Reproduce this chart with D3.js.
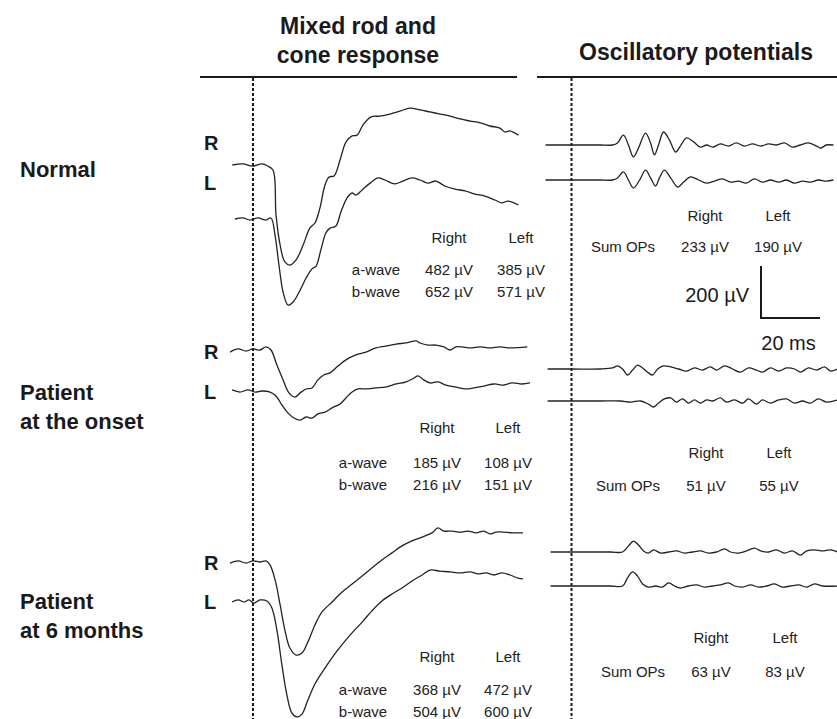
<!DOCTYPE html>
<html>
<head>
<meta charset="utf-8">
<script src="https://cdn.jsdelivr.net/npm/d3@7"></script>
<style>
  body { margin: 0; background: #fff; }
  svg { display: block; font-family: "Liberation Sans", Arial, sans-serif; }
</style>
</head>
<body>
<svg id="chart" width="837" height="719"></svg>
<script>
// ---- data: [time (ms from flash), amplitude (µV from baseline)] ----
const mixedNormalR = [[-7,0],[-3.4,4],[0,-4],[3,4],[5,-4],[6.8,-20],[7.8,-192],[9.2,-308],[10.8,-373],[12.5,-385],[14.6,-365],[17,-308],[19.3,-242],[21,-223],[22.7,-165],[24.4,-77],[25.8,-46],[27.5,-42],[29.5,19],[31.5,88],[33.6,112],[35.3,115],[37.3,154],[40,185],[43,188],[46.4,196],[50,208],[53.2,219],[56.6,212],[60,204],[63.4,196],[66.8,188],[70.2,177],[73.6,169],[77,162],[80.3,150],[83.7,142],[85.4,127],[87,131],[90,115]];
const mixedNormalL = [[-6.1,0],[-3.4,4],[-1,-4],[1.7,4],[4.4,-4],[6.1,4],[7.5,-65],[8.8,-177],[10.2,-281],[11.9,-331],[13.6,-319],[16,-273],[18,-227],[20,-192],[21.4,-181],[23,-119],[24.7,-54],[26.1,-35],[28.1,-27],[29.8,27],[31.9,81],[33.6,100],[34.9,92],[37,112],[39.7,138],[42.4,158],[44.7,150],[48.1,135],[50.8,146],[53.9,158],[56.6,150],[59.3,138],[62,146],[65,127],[68.5,115],[71.9,108],[75.3,96],[78.6,88],[82,73],[84.4,62],[86.4,69],[90,54]];
const mixedOnsetR = [[-7.8,-8],[-5,4],[-2.4,-4],[0,4],[2.4,0],[4.4,12],[6.1,0],[8.1,-58],[10.2,-115],[12.2,-165],[14.2,-181],[16,-165],[18,-150],[20,-146],[22,-115],[24,-96],[26.1,-88],[28.8,-62],[31.5,-38],[34.9,-19],[38.3,-8],[41.7,8],[45,15],[48.5,23],[51.9,27],[55.3,35],[56.6,27],[59.3,19],[62,19],[64.7,12],[66.8,0],[68.8,12],[70.8,12],[73.6,8],[77,12],[80.3,8],[83.7,12],[87.1,8],[93,12]];
const mixedOnsetL = [[-7.1,4],[-4.4,-4],[-1.7,4],[0.7,-4],[3,0],[5.8,-4],[7.8,-19],[9.8,-54],[11.9,-85],[13.9,-104],[16,-112],[18,-100],[20,-104],[22,-88],[24.4,-81],[26.8,-65],[29.5,-50],[31.5,-27],[33.6,-4],[35.6,8],[38.3,8],[41.7,12],[45,15],[48.5,27],[51.9,35],[54.6,50],[55.9,58],[58,42],[60,31],[62.7,35],[65.4,23],[68.8,15],[72.2,8],[74.9,12],[78.3,19],[81.7,27],[85.1,23],[87.8,31],[91.2,27],[93.9,31]];
const mixed6mR = [[-7.8,-4],[-5,4],[-2.4,-4],[0,4],[2.4,0],[4.4,4],[5.8,-12],[7.5,-69],[9.2,-165],[10.8,-262],[12.5,-331],[14.6,-358],[16.6,-350],[18.6,-308],[21,-242],[23.4,-192],[26.8,-154],[30.2,-115],[33.6,-85],[37,-54],[40.3,-23],[43.7,8],[47.1,35],[50.5,62],[53.9,81],[57.3,96],[60.7,112],[62.7,131],[64.7,119],[67.5,119],[70.2,115],[72.9,119],[75.6,112],[78.3,119],[80.3,108],[82.4,115],[85.1,115],[87.8,112],[91.5,112]];
const mixed6mL = [[-7.1,-4],[-5,4],[-3,-4],[-1.4,4],[0.3,-8],[2.4,4],[4.7,0],[6.4,-27],[8.1,-112],[9.8,-246],[11.5,-362],[13.2,-431],[14.9,-446],[16.6,-435],[18.6,-381],[21,-319],[24.4,-258],[28.5,-192],[32.9,-131],[37,-81],[40.3,-38],[43.7,0],[47.1,27],[50.5,50],[53.9,77],[57.3,100],[60,119],[63.4,115],[66.8,112],[70.2,108],[73.6,112],[76.3,104],[79,108],[81.7,100],[84.4,108],[87.1,100],[89.8,88],[91.5,85]];

const opNormalR = [[-8.8,0],[-3.7,0],[3,0],[9.8,0],[13.9,0],[15.6,8],[17.6,38],[19.3,0],[21,-46],[22.7,-12],[25.1,46],[26.8,8],[28.1,-38],[29.5,0],[31.2,50],[33.2,19],[35.3,-27],[36.9,-4],[39,27],[41.4,12],[43.7,-8],[45.8,0],[47.8,-8],[50.5,4],[53.2,-4],[55.9,8],[58.6,-4],[61.4,4],[64.1,-4],[66.8,4],[69.5,0],[72.2,8],[74.9,-8],[77.6,0],[80.3,8],[83.1,-4],[84.4,-12],[86.4,0],[88.8,0]];
const opNormalL = [[-8.8,0],[-3.7,0],[3,0],[9.8,0],[13.9,0],[15.6,8],[17.6,31],[19.3,0],[21,-31],[23.1,0],[25.1,38],[26.8,8],[28.5,-23],[29.8,8],[31.5,38],[33.6,8],[36,-27],[38,-8],[40.3,12],[43.1,0],[45.8,-12],[48.5,-4],[51.2,4],[53.9,-8],[56.6,-4],[59.3,-12],[62,4],[64.7,-8],[67.5,0],[70.2,-8],[72.9,0],[75.6,-12],[78.3,-4],[81,-8],[83.7,0],[86.4,-4],[88.8,0]];
const opOnsetR = [[-8.1,0],[0,0],[9.8,0],[13.9,4],[15.6,12],[17.3,0],[19,-23],[20.7,-4],[22.4,15],[24.1,4],[26.1,-15],[27.5,-23],[29.2,0],[31.2,12],[33.6,8],[36.3,0],[39,-8],[41.7,4],[44.4,-4],[47.1,8],[49.2,-4],[51.9,12],[54.6,0],[57.3,-12],[60,4],[62.7,-4],[64.7,-12],[67.5,4],[70.2,-8],[72.9,4],[75.6,0],[77.6,-12],[80.3,4],[83.1,-4],[85.8,8],[87.8,-8],[90.2,0]];
const opOnsetL = [[-8.1,0],[0,0],[9.8,0],[16.6,0],[20,-4],[23.4,0],[26.1,-12],[27.8,-23],[29.5,-8],[31.5,8],[33.6,12],[35.6,-4],[37.6,8],[39.7,-8],[41.7,4],[43.7,-8],[45.8,4],[47.8,0],[50.5,12],[52.5,-4],[55.3,4],[58,-8],[60,8],[62.7,-12],[64.7,4],[67.5,-8],[70.2,4],[72.9,8],[75.6,-8],[78.3,0],[81,-8],[83.7,8],[86.4,-4],[90.2,4]];
const op6mR = [[-7.1,0],[0,0],[13.2,0],[17.3,0],[19.3,23],[21,42],[22.7,27],[24.4,4],[26.1,-4],[27.8,8],[30.2,-4],[32.9,0],[35.6,4],[38.3,-4],[41,0],[43.7,4],[46.4,-4],[49.2,0],[51.9,12],[53.9,0],[56.6,-4],[59.3,4],[62,15],[64.1,4],[66.8,0],[69.5,8],[72.2,-4],[74.9,4],[77.6,-12],[79.7,4],[82.4,8],[85.1,4],[87.8,8],[90.2,0]];
const op6mL = [[-7.1,0],[0,0],[13.2,0],[17.3,0],[19,31],[20.7,54],[22.4,38],[24.1,8],[26.1,-4],[28.5,0],[30.8,-4],[32.9,12],[34.9,0],[36.9,-8],[39.7,0],[42.4,4],[45.1,-4],[47.8,0],[50.5,4],[53.2,12],[55.3,0],[58,-4],[60.7,4],[63.4,-4],[66.1,0],[68.8,8],[71.5,-4],[74.2,0],[77,4],[79.7,-4],[82.4,8],[85.1,0],[90.2,0]];

// ---- table values ----
const rowNames = [["Normal"], ["Patient", "at the onset"], ["Patient", "at 6 months"]];
const eyeLabels = ["R", "L"];
const colHeaders = ["Right", "Left"];
const aWave = [[482, 385], [185, 108], [368, 472]];
const bWave = [[652, 571], [216, 151], [504, 600]];
const sumOPs = [[233, 190], [51, 55], [63, 83]];
const scaleBar = { amp: 200, time: 20 };

// ---- layout ----
const svg = d3.select("#chart");
const ink = "#1a1a1a";

const xMix = d3.scaleLinear().domain([0, 90]).range([253, 518.5]);
const xOP = d3.scaleLinear().domain([0, 90]).range([571.5, 837]);
const yAmp = d3.scaleLinear().domain([0, 200]).range([0, -52]);

// per row: trace baselines (R, L) for mixed and OP panels, plus label & table positions
const rows = [
    { mixed: [mixedNormalR, mixedNormalL], op: [opNormalR, opNormalL],
      mixBase: [165, 219], opBase: [145, 180], eyeY: [143, 183],
      nameY: [177], mixTab: { head: 243, a: 275, b: 297, c1: 449, c2: 521, lab: 376 },
      opTab: { head: 221, sum: 252, lab: 623, c1: 705, c2: 778 } },
    { mixed: [mixedOnsetR, mixedOnsetL], op: [opOnsetR, opOnsetL],
      mixBase: [350, 391], opBase: [369, 401], eyeY: [352, 392],
      nameY: [400, 429], mixTab: { head: 433, a: 468, b: 490, c1: 437, c2: 508, lab: 363 },
      opTab: { head: 458, sum: 491, lab: 628, c1: 706, c2: 779 } },
    { mixed: [mixed6mR, mixed6mL], op: [op6mR, op6mL],
      mixBase: [562, 601], opBase: [552, 586], eyeY: [563, 602],
      nameY: [609, 638], mixTab: { head: 662, a: 695, b: 717, c1: 437, c2: 508, lab: 363 },
      opTab: { head: 643, sum: 677, lab: 633, c1: 711, c2: 785 } }
];

// column headers
const titles = svg.append("g").attr("font-weight", "bold").attr("font-size", 23).attr("fill", ink)
    .attr("text-anchor", "middle");
titles.append("text").attr("x", 358).attr("y", 34).text("Mixed rod and");
titles.append("text").attr("x", 358).attr("y", 63).text("cone response");
titles.append("text").attr("x", 696).attr("y", 60).text("Oscillatory potentials");

svg.append("line").attr("x1", 200).attr("x2", 517).attr("y1", 77).attr("y2", 77)
    .attr("stroke", ink).attr("stroke-width", 2);
svg.append("line").attr("x1", 537).attr("x2", 837).attr("y1", 77).attr("y2", 77)
    .attr("stroke", ink).attr("stroke-width", 2);

// stimulus markers (t = 0)
[xMix(0), xOP(0)].forEach(x => {
    svg.append("line").attr("x1", x).attr("x2", x).attr("y1", 78).attr("y2", 719)
        .attr("stroke", ink).attr("stroke-width", 2).attr("stroke-dasharray", "3,2");
});

rows.forEach((row, r) => {
    // row name
    rowNames[r].forEach((s, i) => {
        svg.append("text").attr("x", 20).attr("y", row.nameY[i]).attr("font-weight", "bold")
            .attr("font-size", 22).attr("fill", ink).text(s);
    });

    // R / L
    eyeLabels.forEach((s, i) => {
        svg.append("text").attr("x", 204).attr("y", row.eyeY[i]).attr("dy", "0.36em")
            .attr("font-weight", "bold").attr("font-size", 20).attr("fill", ink).text(s);
    });

    // traces
    row.mixed.forEach((pts, i) => {
        const line = d3.line().x(d => xMix(d[0])).y(d => row.mixBase[i] + yAmp(d[1]))
            .curve(d3.curveCatmullRom.alpha(0.5));
        svg.append("path").datum(pts).attr("d", line).attr("fill", "none")
            .attr("stroke", "#222").attr("stroke-width", 1.3);
    });
    row.op.forEach((pts, i) => {
        const line = d3.line().x(d => xOP(d[0])).y(d => row.opBase[i] + yAmp(d[1]))
            .curve(d3.curveCatmullRom.alpha(0.5));
        svg.append("path").datum(pts).attr("d", line).attr("fill", "none")
            .attr("stroke", "#222").attr("stroke-width", 1.3);
    });
});

// tables
function tableText(x, y, s) {
    svg.append("text").attr("x", x).attr("y", y).attr("text-anchor", "middle")
        .attr("font-size", 15).attr("fill", "#222").text(s);
}
rows.forEach((row, r) => {
    const m = row.mixTab;
    tableText(m.c1, m.head, colHeaders[0]);
    tableText(m.c2, m.head, colHeaders[1]);
    tableText(m.lab, m.a, "a-wave");
    tableText(m.lab, m.b, "b-wave");
    tableText(m.c1, m.a, aWave[r][0] + " \u00b5V");
    tableText(m.c2, m.a, aWave[r][1] + " \u00b5V");
    tableText(m.c1, m.b, bWave[r][0] + " \u00b5V");
    tableText(m.c2, m.b, bWave[r][1] + " \u00b5V");

    const o = row.opTab;
    tableText(o.c1, o.head, colHeaders[0]);
    tableText(o.c2, o.head, colHeaders[1]);
    tableText(o.lab, o.sum, "Sum OPs");
    tableText(o.c1, o.sum, sumOPs[r][0] + " \u00b5V");
    tableText(o.c2, o.sum, sumOPs[r][1] + " \u00b5V");
});

// calibration bar
const barX = 761, barBottom = 318;
const barH = -yAmp(scaleBar.amp);
const barW = xOP(scaleBar.time) - xOP(0);
svg.append("path")
    .attr("d", `M${barX},${barBottom - barH}V${barBottom}H${barX + barW}`)
    .attr("fill", "none").attr("stroke", ink).attr("stroke-width", 2);
svg.append("text").attr("x", barX - 12).attr("y", 302).attr("text-anchor", "end")
    .attr("font-size", 20).attr("fill", ink).text(scaleBar.amp + " \u00b5V");
svg.append("text").attr("x", barX + barW / 2 - 2).attr("y", 350).attr("text-anchor", "middle")
    .attr("font-size", 20).attr("fill", ink).text(scaleBar.time + " ms");
</script>
</body>
</html>
